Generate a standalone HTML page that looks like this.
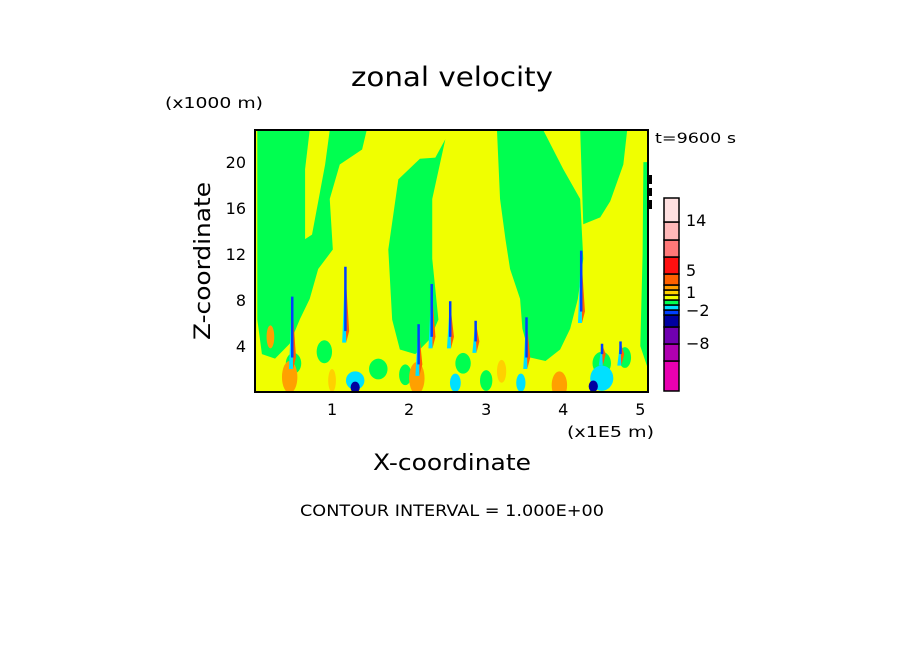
<!DOCTYPE html>
<html><head><meta charset="utf-8"><style>
html,body{margin:0;padding:0;background:#fff;}
svg{display:block;font-family:"DejaVu Sans","Liberation Sans",sans-serif;}
</style></head><body>
<svg id="chart" width="904" height="654" viewBox="0 0 904 654">
<rect width="904" height="654" fill="#fff"/>
<text x="351" y="86" font-size="27" textLength="202" lengthAdjust="spacingAndGlyphs">zonal velocity</text>
<text x="165" y="108" font-size="15" textLength="98" lengthAdjust="spacingAndGlyphs">(x1000 m)</text>
<text x="655" y="143" font-size="14" textLength="81" lengthAdjust="spacingAndGlyphs">t=9600 s</text>
<text x="567" y="437" font-size="15" textLength="87" lengthAdjust="spacingAndGlyphs">(x1E5 m)</text>
<text x="373" y="470" font-size="22" textLength="158" lengthAdjust="spacingAndGlyphs">X-coordinate</text>
<text x="0" y="0" font-size="22" textLength="158" lengthAdjust="spacingAndGlyphs" transform="translate(210,340) rotate(-90)">Z-coordinate</text>
<text x="300" y="516" font-size="16" textLength="304" lengthAdjust="spacingAndGlyphs">CONTOUR INTERVAL = 1.000E+00</text>
<defs><clipPath id="pc"><rect x="255" y="130" width="393" height="262"/></clipPath></defs>
<g id="field" clip-path="url(#pc)"></g>
<rect x="255" y="130" width="393" height="262" fill="none" stroke="#000" stroke-width="2"/>
<rect x="648" y="175" width="4" height="9" fill="#000"/>
<rect x="648" y="188" width="4" height="8" fill="#000"/>
<rect x="648" y="200" width="4" height="9" fill="#000"/>
<g id="axes"></g>
<g id="cbar"></g>
</svg>
<script>
// axis data
const xTicks = [1,2,3,4,5];
const zTicks = [4,8,12,16,20];
const xMin = 0, xMax = 5.1, zMin = 0, zMax = 22.8;
// color levels (colorbar, bottom to top)
const levelColors = ["#e800b0","#b000b0","#7000b0","#0000a0","#0040ff","#00e0ff","#00ff50","#f0ff00","#ffd000","#ffa000","#ff6000","#ff1010","#ff7878","#ffb8b8","#ffe0e0"];
const levelBounds = [-14,-10,-8,-5,-3,-2,-1,0,1,2,3,5,8,11,14,18];
const cbarLabels = [14,5,1,-2,-8];
// field regions (x in 1E5 m, z in km)
const greenA = [[0.03,22.8],[1.45,22.8],[1.39,21.1],[1.10,19.8],[0.97,16.8],[1.01,12.4],[0.82,10.7],[0.71,8.1],[0.58,6.3],[0.45,4.2],[0.26,2.9],[0.09,3.3],[0.03,6.3]];
const yellowA = [[0.71,22.8],[0.97,22.8],[0.91,19.8],[0.74,13.7],[0.65,13.3],[0.65,19.4]];
const greenB = [[1.86,18.5],[2.14,20.3],[2.34,20.4],[2.47,22.0],[2.30,16.8],[2.30,11.6],[2.38,6.3],[2.27,4.6],[2.08,3.3],[1.88,3.7],[1.78,6.3],[1.73,12.4]];
const greenC = [[3.14,22.8],[3.74,22.8],[4.0,19.4],[4.22,16.8],[4.26,11.6],[4.19,8.1],[4.09,5.5],[3.96,3.7],[3.77,2.7],[3.57,3.0],[3.47,5.5],[3.44,8.1],[3.31,10.7],[3.25,13.3],[3.18,16.8]];
const greenD = [[4.22,22.8],[4.83,22.8],[4.78,19.8],[4.61,16.6],[4.48,15.2],[4.26,14.6]];
const greenE = [[5.04,20],[5.1,20],[5.1,2],[5.0,4],[5.03,12]];
// blobs: x, z, rx(1E5 m), rz(km), level index
const blobX = [0.5,0.9,1.6,1.95,2.7,3.0,4.5,4.8,1.3,2.6,3.45,4.5,0.45,2.1,3.95,0.2,1.3,4.39,1.0,3.2];
const blobZ = [2.5,3.5,2.0,1.5,2.5,1.0,2.5,3.0,1.0,0.8,0.8,1.2,1.3,1.2,0.6,4.8,0.4,0.5,1.0,1.8];
const blobRX = [0.1,0.1,0.12,0.08,0.1,0.08,0.12,0.08,0.12,0.07,0.06,0.15,0.1,0.1,0.1,0.05,0.06,0.06,0.05,0.06];
const blobRZ = [0.9,1.0,0.9,0.9,0.9,0.9,1.0,0.9,0.8,0.8,0.8,1.1,1.4,1.4,1.2,1.0,0.5,0.5,1.0,1.0];
const blobLev = [6,6,6,6,6,6,6,6,5,5,5,5,9,9,9,9,3,3,8,8];
// spikes: x, z bottom, z top
const spikeX = [0.48,1.17,2.29,2.53,2.86,3.52,4.23,4.5,4.74,2.12];
const spikeZ0 = [3.0,5.3,4.8,4.8,4.4,3.0,7.0,3.3,3.3,2.4];
const spikeZ1 = [8.3,10.9,9.4,7.9,6.2,6.5,12.3,4.2,4.4,5.9];

const X0=255, X1=648, Y0=392, Y1=130;
const sx = v => X0 + (v - xMin) / (xMax - xMin) * (X1 - X0);
const sz = v => Y0 - (v - zMin) / (zMax - zMin) * (Y0 - Y1);
const NS = "http://www.w3.org/2000/svg";
const field = document.getElementById('field');
function mk(tag, attrs, parent){const e=document.createElementNS(NS,tag);for(const k in attrs)e.setAttribute(k,attrs[k]);parent.appendChild(e);return e;}

const bg = mk('rect',{x:X0,y:Y1,width:X1-X0,height:Y0-Y1,fill:levelColors[7]},field);


function poly(pts,col,name){
  const p=mk('polygon',{points:pts.map(q=>sx(q[0])+','+sz(q[1])).join(' '),fill:col},field);
  
  
}
poly(greenA,levelColors[6],'negative-region-a');
poly(yellowA,levelColors[7],'positive-tongue-a');
poly(greenB,levelColors[6],'negative-region-b');
poly(greenC,levelColors[6],'negative-region-c');
poly(greenD,levelColors[6],'negative-region-d');
poly(greenE,levelColors[6],'negative-region-e');
for(let i=0;i<blobX.length;i++){
  const e=mk('ellipse',{cx:sx(blobX[i]),cy:sz(blobZ[i]),rx:blobRX[i]*(X1-X0)/(xMax-xMin),ry:blobRZ[i]*(Y0-Y1)/(zMax-zMin),fill:levelColors[blobLev[i]]},field);
  
  
}
for(let i=0;i<spikeX.length;i++){
  const x=sx(spikeX[i]);
  const r=mk('polygon',{points:`${x},${sz(spikeZ1[i])} ${x+4},${sz(spikeZ0[i])} ${x+1},${sz(spikeZ0[i]-1)}`,fill:levelColors[10]},field);
  
  
  const c=mk('polygon',{points:`${x},${sz(spikeZ1[i])} ${x-3},${sz(spikeZ0[i]-1)} ${x+1},${sz(spikeZ0[i]-1)}`,fill:levelColors[5]},field);
  
  
  const b=mk('rect',{x:x-1,y:sz(spikeZ1[i]),width:2.5,height:sz(spikeZ0[i])-sz(spikeZ1[i]),fill:levelColors[4]},field);
  
  
}

const axes=document.getElementById('axes');
xTicks.forEach(v=>{
  const t=mk('text',{x:sx(v),y:415,'font-size':16,'text-anchor':'middle'},axes);t.textContent=v;
  
  
});
zTicks.forEach(v=>{
  const t=mk('text',{x:246,y:sz(v)+6,'font-size':16,'text-anchor':'end'},axes);t.textContent=v;
  
  
});

const cb=document.getElementById('cbar');
const CB0=391, cbx=664, cbw=15;
const segH=[30,17,17,12,5,5,5,5,5,5,11,17,17,18,24];
const cy = v => {
  let i=levelBounds.findIndex((b,k)=>v>=b && v<=levelBounds[k+1]);
  if(i<0) i=0;
  let y=CB0; for(let k=0;k<i;k++) y-=segH[k];
  return y - segH[i]*(v-levelBounds[i])/(levelBounds[i+1]-levelBounds[i]);
};
for(let i=0;i<levelColors.length;i++){
  const ya=cy(levelBounds[i+1]), yb=cy(levelBounds[i]);
  const r=mk('rect',{x:cbx,y:ya,width:cbw,height:yb-ya,fill:levelColors[i],stroke:'#000','stroke-width':1.5},cb);
  
  
}
const cbLabelY=[226,276,298,316,349];
cbarLabels.forEach((v,i)=>{
  const t=mk('text',{x:686,y:cbLabelY[i],'font-size':16},cb);t.textContent=v<0?'\u2212'+(-v):v;
  
  
});
</script>
</body></html>
